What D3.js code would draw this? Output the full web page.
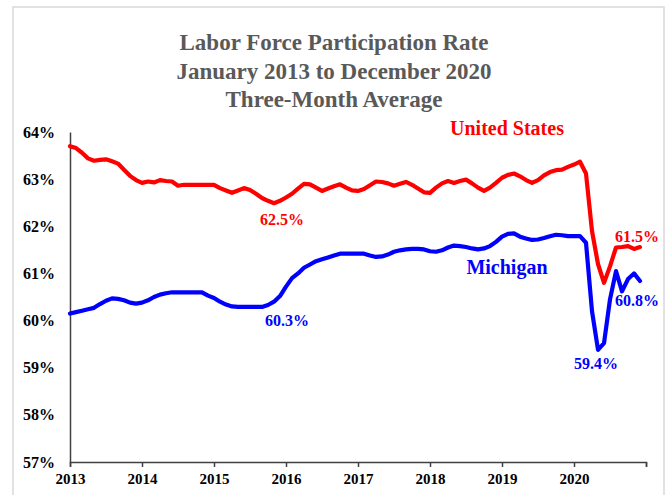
<!DOCTYPE html>
<html>
<head>
<meta charset="utf-8">
<script src="https://cdn.jsdelivr.net/npm/d3@7"></script>
<style>
  html, body { margin: 0; padding: 0; background: #fff; }
  svg { display: block; }
  text { font-family: "Liberation Serif", "Times New Roman", serif; font-weight: bold; }
</style>
</head>
<body>
<svg id="chart" width="670" height="495"></svg>
<script>
// ---- Data (monthly, three-month average, Jan 2013 .. Dec 2020) ----
const titleLines = ["Labor Force Participation Rate", "January 2013 to December 2020", "Three-Month Average"];
const yearLabels = ["2013", "2014", "2015", "2016", "2017", "2018", "2019", "2020", ""];
const yTicks = [57, 58, 59, 60, 61, 62, 63, 64];

const usValues = [
  63.70, 63.66, 63.56, 63.44, 63.39, 63.41, 63.42, 63.38, 63.33, 63.20, 63.07, 62.98,
  62.92, 62.95, 62.93, 62.98, 62.96, 62.95, 62.86, 62.88, 62.88, 62.88, 62.88, 62.88,
  62.88, 62.81, 62.76, 62.71, 62.76, 62.81, 62.77, 62.69, 62.60, 62.54, 62.49, 62.54,
  62.61, 62.69, 62.80, 62.90, 62.89, 62.82, 62.75, 62.80, 62.85, 62.89, 62.82, 62.76,
  62.75, 62.79, 62.87, 62.95, 62.94, 62.91, 62.86, 62.90, 62.94, 62.88, 62.80, 62.72,
  62.71, 62.82, 62.91, 62.96, 62.92, 62.96, 62.99, 62.91, 62.82, 62.75, 62.82, 62.92,
  63.03, 63.09, 63.12, 63.06, 62.98, 62.92, 62.98, 63.08, 63.15, 63.19, 63.20, 63.26,
  63.31, 63.37, 63.12, 61.90, 61.20, 60.80, 61.15, 61.55, 61.56, 61.58, 61.52, 61.56
];
const miValues = [
  60.15, 60.18, 60.21, 60.24, 60.27, 60.35, 60.42, 60.47, 60.46, 60.43, 60.38, 60.36,
  60.38, 60.43, 60.50, 60.55, 60.58, 60.60, 60.60, 60.60, 60.60, 60.60, 60.60, 60.53,
  60.48, 60.40, 60.34, 60.30, 60.29, 60.29, 60.29, 60.29, 60.29, 60.33, 60.40, 60.52,
  60.72, 60.90, 61.00, 61.12, 61.19, 61.26, 61.30, 61.34, 61.38, 61.42, 61.42, 61.42,
  61.42, 61.42, 61.38, 61.35, 61.36, 61.40, 61.46, 61.49, 61.51, 61.52, 61.52, 61.51,
  61.47, 61.46, 61.49, 61.55, 61.59, 61.58, 61.56, 61.53, 61.51, 61.53, 61.58, 61.67,
  61.78, 61.84, 61.85, 61.78, 61.74, 61.71, 61.72, 61.75, 61.79, 61.82, 61.81, 61.79,
  61.79, 61.79, 61.65, 60.20, 59.38, 59.52, 60.45, 61.05, 60.62, 60.88, 61.00, 60.84
];
const seriesNames = ["United States", "Michigan"];
const seriesColors = ["#ff0000", "#0000ff"];
// annotations: [series index, month index, label]
const annotations = [
  { s: 0, m: 34, label: "62.5%" },
  { s: 1, m: 32, label: "60.3%" },
  { s: 1, m: 88, label: "59.4%" },
  { s: 0, m: 95, label: "61.5%" },
  { s: 1, m: 95, label: "60.8%" }
];

// ---- Layout ----
const svg = d3.select("#chart");
const plot = { left: 70, right: 646, top: 132, bottom: 462 };

const x = d3.scaleLinear().domain([0, 96]).range([plot.left, plot.right]);
const y = d3.scaleLinear().domain([57, 64]).range([plot.bottom, plot.top]);

// outer border
svg.append("rect")
  .attr("x", 13).attr("y", 7).attr("width", 651).attr("height", 495)
  .attr("fill", "none").attr("stroke", "#d9d9d9").attr("stroke-width", 1.5);

// title
svg.append("g").selectAll("text").data(titleLines).join("text")
  .attr("x", 334).attr("y", (d, i) => 50 + i * 28.5)
  .attr("text-anchor", "middle")
  .attr("fill", "#595959")
  .style("font-size", "23px")
  .text(d => d);

// y axis
const yAxis = d3.axisLeft(y).tickValues(yTicks).tickSize(0).tickPadding(15)
  .tickFormat(d => d + "%");
const gy = svg.append("g").attr("transform", `translate(${plot.left},0)`).call(yAxis);
gy.select(".domain").attr("stroke", "#404040").attr("stroke-width", 1.5);
gy.selectAll("text").attr("fill", "#000").style("font-size", "16px")
  .style("font-family", '"Liberation Serif", serif').style("font-weight", "bold");

// x axis
const xAxis = d3.axisBottom(x).tickValues(d3.range(0, 97, 12)).tickSize(5).tickPadding(6)
  .tickFormat((d, i) => yearLabels[i]);
const gx = svg.append("g").attr("transform", `translate(0,${plot.bottom})`).call(xAxis);
gx.select(".domain").attr("stroke", "#404040").attr("stroke-width", 1.5);
gx.selectAll("line").attr("stroke", "#404040").attr("stroke-width", 1.5);
gx.selectAll("text").attr("fill", "#000").style("font-size", "15px")
  .style("font-family", '"Liberation Serif", serif').style("font-weight", "bold");

// lines
const line = d3.line().x((d, i) => x(i)).y(d => y(d)).curve(d3.curveLinear);
[usValues, miValues].forEach((vals, si) => {
  svg.append("path").datum(vals)
    .attr("fill", "none")
    .attr("stroke", seriesColors[si])
    .attr("stroke-width", 4.2)
    .attr("stroke-linejoin", "round")
    .attr("stroke-linecap", "round")
    .attr("d", line);
});

// series names
svg.append("text").attr("x", 507).attr("y", 135).attr("text-anchor", "middle")
  .attr("fill", seriesColors[0]).style("font-size", "20px").text(seriesNames[0]);
svg.append("text").attr("x", 507).attr("y", 274).attr("text-anchor", "middle")
  .attr("fill", seriesColors[1]).style("font-size", "20px").text(seriesNames[1]);

// annotations (offsets relative to the point)
const annOffsets = [
  { dx: 8, dy: 22 },
  { dx: 25, dy: 19 },
  { dx: -2, dy: 19 },
  { dx: -3, dy: -5 },
  { dx: -3, dy: 25 }
];
svg.append("g").selectAll("text").data(annotations).join("text")
  .attr("x", (d, i) => x(d.m) + annOffsets[i].dx)
  .attr("y", (d, i) => y((d.s === 0 ? usValues : miValues)[d.m]) + annOffsets[i].dy)
  .attr("text-anchor", "middle")
  .attr("fill", d => seriesColors[d.s])
  .style("font-size", "16px")
  .text(d => d.label);
</script>
</body>
</html>
